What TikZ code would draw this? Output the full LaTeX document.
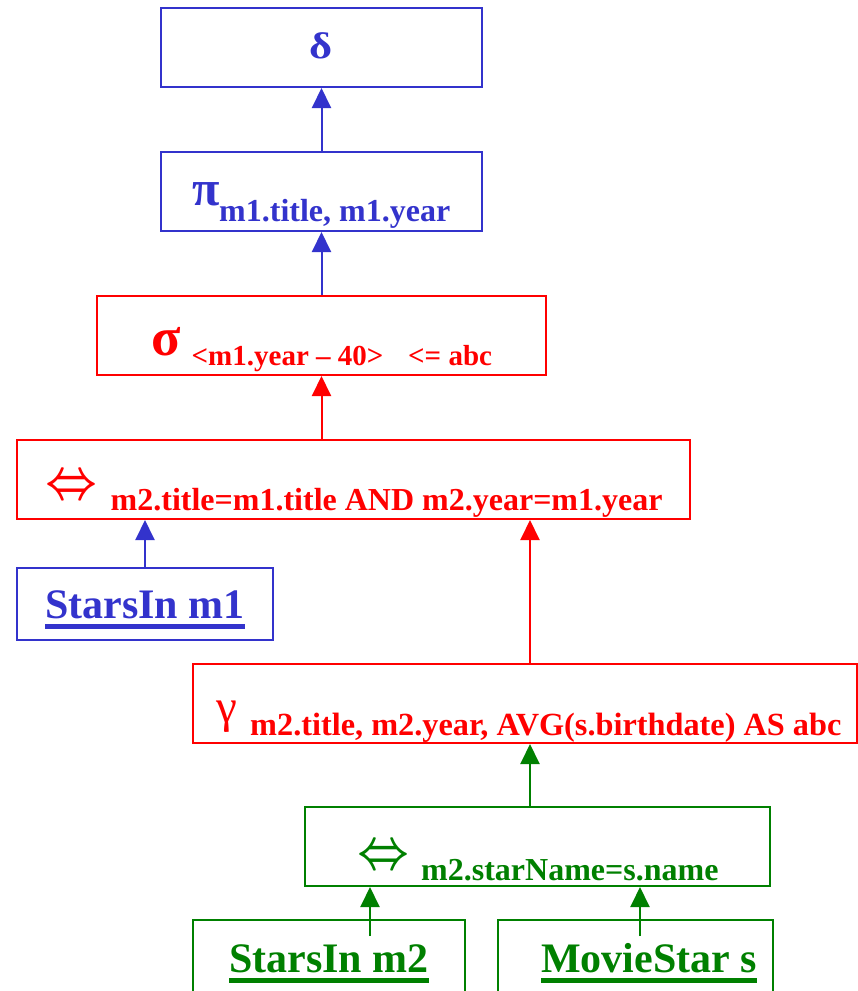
\documentclass[tikz,border=0pt]{standalone}
\usepackage{fontspec}
\setmainfont{Liberation Serif}
\usetikzlibrary{arrows.meta}

\definecolor{opblue}{RGB}{51,51,204}
\definecolor{opred}{RGB}{255,0,0}
\definecolor{opgreen}{RGB}{0,128,0}

\tikzset{
  opbox/.style={draw, rectangle, line width=2pt, inner sep=0pt},
  flow/.style={line width=2pt, -{Triangle[length=20pt,width=19pt]}},
  symb/.style={inner sep=0pt, anchor=base west},
  subs/.style={inner sep=0pt, anchor=base west, font=\fontsize{32}{34}\selectfont\bfseries},
  rel/.style={inner sep=0pt, anchor=base west, font=\fontsize{42}{44}\selectfont\bfseries},
  uline/.style={line width=4.6pt},
}

% box from corner (x1,y1) to corner (x2,y2), y measured downwards
\newcommand\opnode[6]{%
  \node[opbox, draw=#6, minimum width={(#4-#2)*1pt}, minimum height={(#5-#3)*1pt}]
    (#1) at ({(#2+#4)/2},{(#3+#5)/2}) {};}

% join sign
\newcommand\joinsym{\resizebox{52pt}{22pt}{\boldmath$\Leftrightarrow$}}

\begin{document}
\begin{tikzpicture}[x=1pt, y=-1pt]
  \useasboundingbox (0,0) rectangle (858,991);

  % operator boxes
  \opnode{delta}{161}{8}{482}{87}{opblue}
  \opnode{proj}{161}{152}{482}{231}{opblue}
  \opnode{sel}{97}{296}{546}{375}{opred}
  \opnode{joinA}{17}{440}{690}{519}{opred}
  \opnode{sm1}{17}{568}{273}{640}{opblue}
  \opnode{grp}{193}{664}{857}{743}{opred}
  \opnode{joinB}{305}{807}{770}{886}{opgreen}
  \opnode{sm2}{193}{920}{465}{1010}{opgreen}
  \opnode{mstar}{498}{920}{773}{1010}{opgreen}

  % labels
  \node[inner sep=0pt, anchor=base, text=opblue, font=\fontsize{37}{40}\selectfont\bfseries] (tdelta) at (321.5,58) {\scalebox{1.2}[1]{δ}};

  \node[symb, text=opblue, font=\fontsize{50}{52}\selectfont\bfseries] (tpi) at (192,205) {π};
  \node[subs, text=opblue] (tpisub) at (219,221) {m1.title, m1.year};

  \node[symb, text=opred, font=\fontsize{54}{56}\selectfont\bfseries] (tsig) at (151,355) {σ};
  \node[subs, text=opred, font=\fontsize{29}{31}\selectfont\bfseries] (tsigsubA) at (191.5,365) {<m1.year – 40>};
  \node[subs, text=opred, font=\fontsize{29}{31}\selectfont\bfseries] (tsigsubB) at (408,365) {<= abc};

  \node[inner sep=0pt, text=opred] (tjoinA) at (72,487) {\joinsym};
  \node[subs, text=opred] (tjoinAsub) at (110.5,510) {m2.title=m1.title AND m2.year=m1.year};

  \node[rel, text=opblue] (tsm1) at (45,618) {StarsIn m1};
  \draw[uline, opblue] ([yshift=-8.5pt]tsm1.base west) -- ([yshift=-8.5pt]tsm1.base east);

  \node[symb, text=opred, font=\fontsize{47}{50}\selectfont] (tgam) at (216,722) {γ};
  \node[subs, text=opred, font=\fontsize{32.3}{34}\selectfont\bfseries] (tgamsub) at (250,735) {m2.title, m2.year, AVG(s.birthdate) AS abc};

  \node[inner sep=0pt, text=opgreen] (tjoinB) at (384,857) {\joinsym};
  \node[subs, text=opgreen] (tjoinBsub) at (421,880) {m2.starName=s.name};

  \node[rel, text=opgreen] (tsm2) at (229,972) {StarsIn m2};
  \draw[uline, opgreen] ([yshift=-8.5pt]tsm2.base west) -- ([yshift=-8.5pt]tsm2.base east);
  \node[rel, text=opgreen] (tms) at (541,972) {MovieStar s};
  \draw[uline, opgreen] ([yshift=-8.5pt]tms.base west) -- ([yshift=-8.5pt]tms.base east);

  % horizontal positions of the connectors that are off-centre
  \coordinate (cgrp) at (530,0);
  \coordinate (csm2) at (370,0);
  \coordinate (cms) at (640,0);

  % connectors (child -> parent)
  \draw[flow, opblue] (proj.north) -- (delta.south);
  \draw[flow, opblue] (sel.north) -- (proj.south);
  \draw[flow, opred] (sel.south |- joinA.north) -- (sel.south);
  \draw[flow, opblue] (sm1.north) -- (sm1.north |- joinA.south);
  \draw[flow, opred] (grp.north -| cgrp) -- (joinA.south -| cgrp);
  \draw[flow, opgreen] (joinB.north -| cgrp) -- (grp.south -| cgrp);
  \draw[flow, opgreen] ([yshift=-17pt]sm2.north -| csm2) -- (joinB.south -| csm2);
  \draw[flow, opgreen] ([yshift=-17pt]mstar.north -| cms) -- (joinB.south -| cms);
\end{tikzpicture}
\end{document}
